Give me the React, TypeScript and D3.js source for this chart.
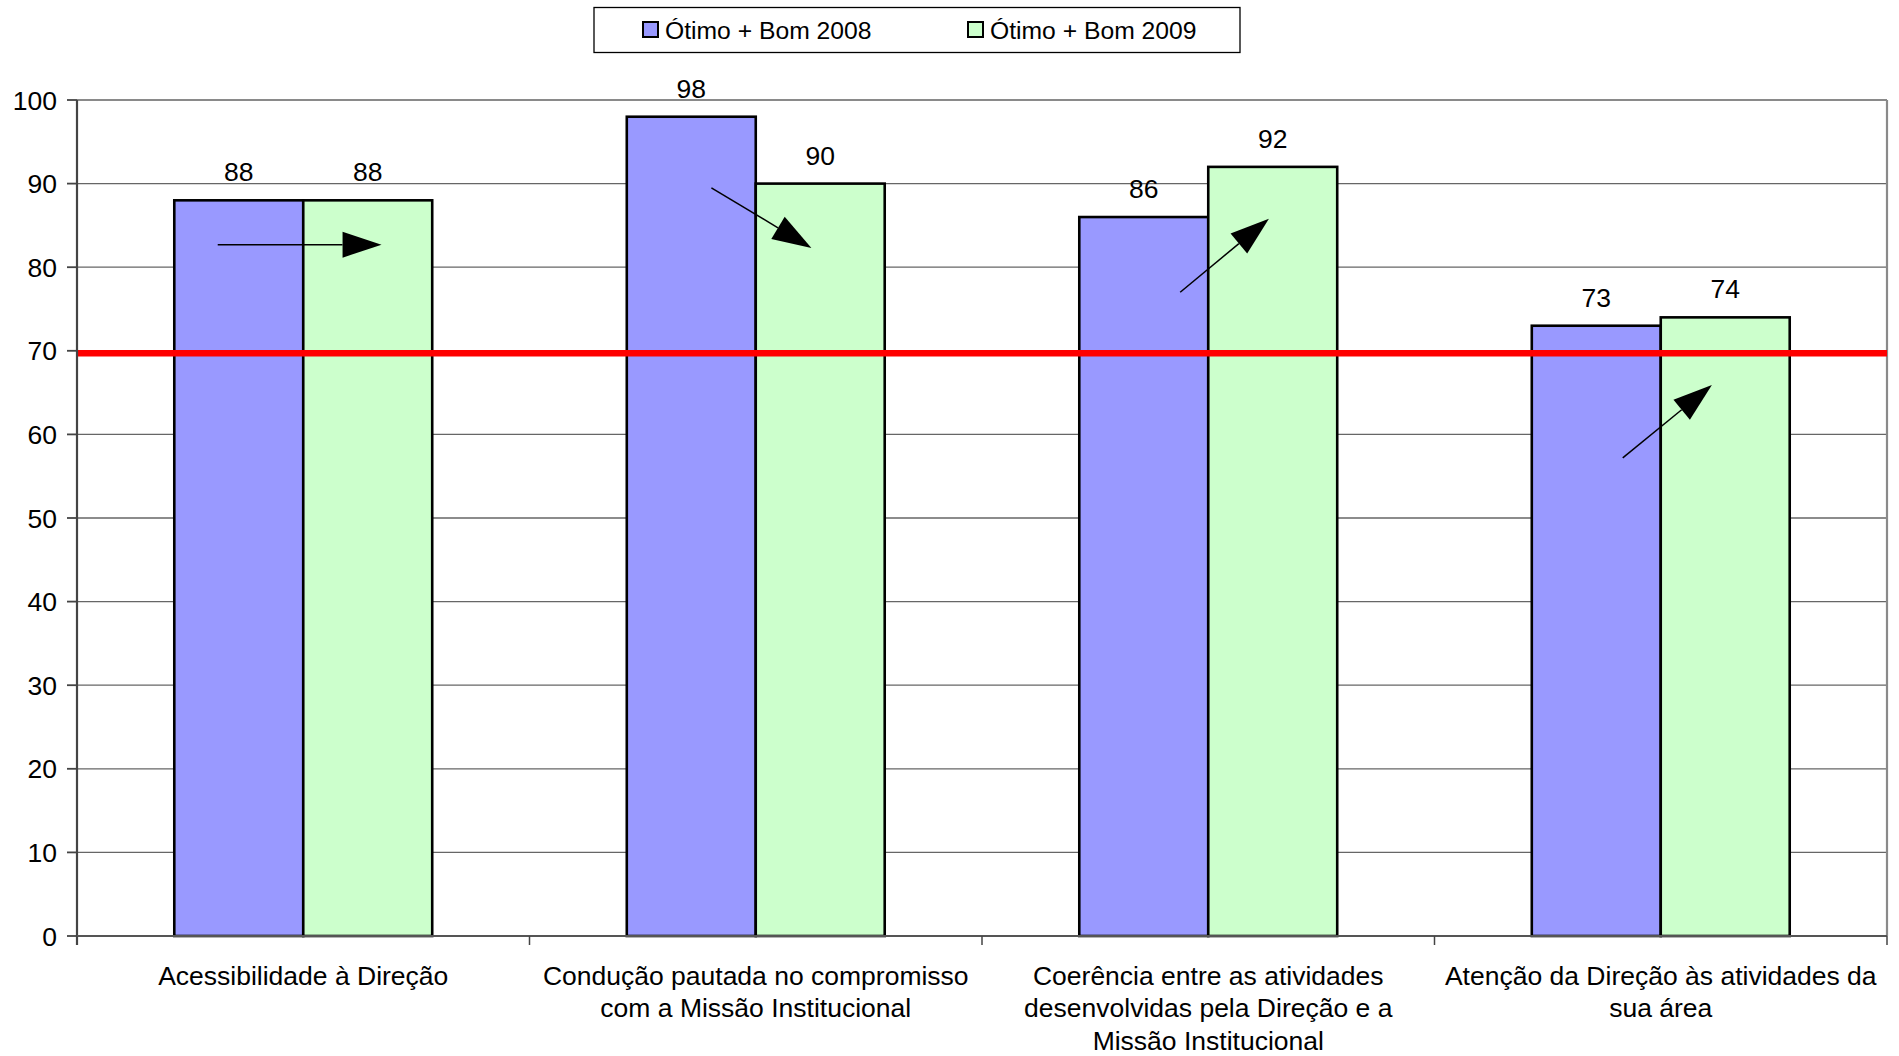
import { useEffect } from 'react'
import * as d3 from 'd3'

const categories = [
  ['Acessibilidade à Direção'],
  ['Condução pautada no compromisso', 'com a Missão Institucional'],
  ['Coerência entre as atividades', 'desenvolvidas pela Direção e a', 'Missão Institucional'],
  ['Atenção da Direção às atividades da', 'sua área'],
]
const seriesNames = ['Ótimo + Bom 2008', 'Ótimo + Bom 2009']
const values2008 = [88, 98, 86, 73]
const values2009 = [88, 90, 92, 74]
const yTicks = [0, 10, 20, 30, 40, 50, 60, 70, 80, 90, 100]
const threshold = 69.7
// arrows: category index, start/end offset within band (0..1), start/end value
const arrows = [
  { cat: 0, x0: 0.311, x1: 0.673, y0: 82.7, y1: 82.7 },
  { cat: 1, x0: 0.402, x1: 0.623, y0: 89.5, y1: 82.3 },
  { cat: 2, x0: 0.438, x1: 0.634, y0: 77.0, y1: 85.8 },
  { cat: 3, x0: 0.416, x1: 0.613, y0: 57.2, y1: 65.9 },
]

const colors = ['#9999FF', '#CCFFCC']
const font = '"Liberation Sans", Arial, sans-serif'

export default function App() {
  useEffect(() => {
    document.body.style.margin = '0'
  }, [])

  const left = 77
  const right = 1887
  const top = 100
  const bottom = 936

  const x = d3.scaleBand<number>().domain(d3.range(categories.length)).range([left, right]).padding(0)
  const y = d3.scaleLinear().domain([0, 100]).range([bottom, top])
  const bw = x.bandwidth()
  const barW = bw * 0.285
  const groupOff = (bw - 2 * barW) / 2
  const series = [values2008, values2009]

  return (
    <svg width={1899} height={1056} style={{ display: 'block', fontFamily: font }}>
      <rect width={1899} height={1056} fill="#fff" />
      {/* grid */}
      {yTicks.slice(1).map(t => (
        <line key={t} x1={left} x2={right} y1={y(t)} y2={y(t)}
          stroke={t === 100 ? '#8a8a8a' : '#666'} strokeWidth={t === 100 ? 2.2 : 1.3} />
      ))}
      <line x1={right} x2={right} y1={top} y2={bottom} stroke="#8a8a8a" strokeWidth={2.2} />
      {/* bars */}
      {series.map((vals, si) =>
        vals.map((v, ci) => (
          <rect key={`${si}-${ci}`}
            x={(x(ci) as number) + groupOff + si * barW}
            y={y(v)}
            width={barW}
            height={y(0) - y(v)}
            fill={colors[si]} stroke="#000" strokeWidth={2.6} />
        ))
      )}
      {/* value labels */}
      {series.map((vals, si) =>
        vals.map((v, ci) => (
          <text key={`l${si}-${ci}`}
            x={(x(ci) as number) + groupOff + si * barW + barW / 2}
            y={y(v) - 19}
            textAnchor="middle" fontSize={26.5} fill="#000">{v}</text>
        ))
      )}
      {/* threshold */}
      <line x1={left} x2={right} y1={y(threshold)} y2={y(threshold)} stroke="#ff0000" strokeWidth={6.5} />
      {/* arrows */}
      {arrows.map((a, i) => {
        const sx = (x(a.cat) as number) + a.x0 * bw
        const ex = (x(a.cat) as number) + a.x1 * bw
        const sy = y(a.y0)
        const ey = y(a.y1)
        const ang = Math.atan2(ey - sy, ex - sx)
        const hl = 39
        const hw = 13
        const bx = ex - hl * Math.cos(ang)
        const by = ey - hl * Math.sin(ang)
        const px = -Math.sin(ang) * hw
        const py = Math.cos(ang) * hw
        return (
          <g key={i}>
            <line x1={sx} y1={sy} x2={bx} y2={by} stroke="#000" strokeWidth={1.5} />
            <polygon points={`${ex},${ey} ${bx + px},${by + py} ${bx - px},${by - py}`} fill="#000" />
          </g>
        )
      })}
      {/* y axis */}
      <line x1={left} x2={left} y1={top} y2={bottom + 9} stroke="#444" strokeWidth={2.2} />
      {yTicks.map(t => (
        <g key={t}>
          <line x1={left - 10} x2={left} y1={y(t)} y2={y(t)} stroke="#444" strokeWidth={1.8} />
          <text x={57} y={y(t)} dy="0.36em" textAnchor="end" fontSize={26.5} fill="#000">{t}</text>
        </g>
      ))}
      {/* x axis */}
      <line x1={left} x2={right} y1={bottom} y2={bottom} stroke="#555" strokeWidth={2.2} />
      {d3.range(categories.length + 1).map(i => (
        <line key={i} x1={left + i * bw} x2={left + i * bw} y1={bottom} y2={bottom + 9} stroke="#444" strokeWidth={1.5} />
      ))}
      {categories.map((lines, ci) => (
        <text key={ci} x={(x(ci) as number) + bw / 2} y={975} textAnchor="middle" fontSize={26.5} fill="#000">
          {lines.map((ln, li) => (
            <tspan key={li} x={(x(ci) as number) + bw / 2} dy={li === 0 ? '0.36em' : 32.7}>{ln}</tspan>
          ))}
        </text>
      ))}
      {/* legend */}
      <rect x={594} y={7.5} width={646} height={45} fill="#fff" stroke="#000" strokeWidth={1.3} />
      {seriesNames.map((n, i) => {
        const sx = [643, 968][i]
        return (
          <g key={n}>
            <rect x={sx} y={22} width={15} height={15} fill={colors[i]} stroke="#000" strokeWidth={2} />
            <text x={sx + 22} y={30} dy="0.36em" fontSize={24.7} fill="#000">{n}</text>
          </g>
        )
      })}
    </svg>
  )
}
